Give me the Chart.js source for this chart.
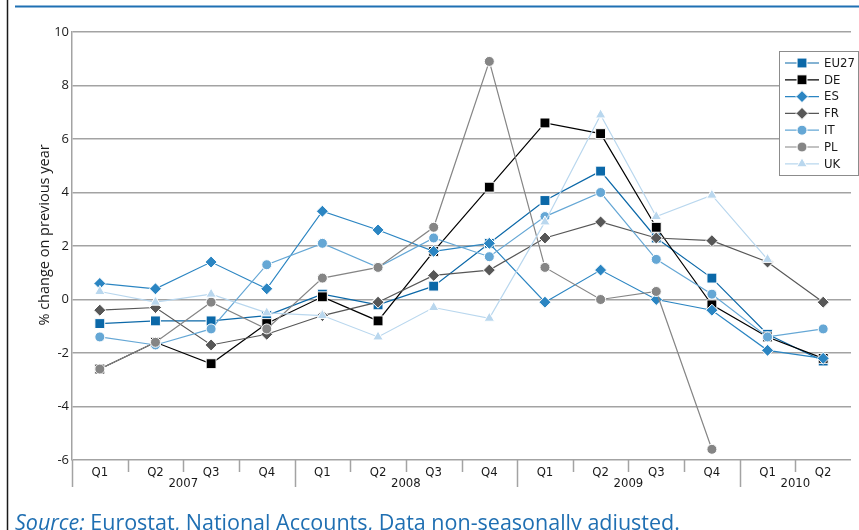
<!DOCTYPE html>
<html>
<head>
<meta charset="utf-8">
<script src="https://cdn.jsdelivr.net/npm/chart.js@4/dist/chart.umd.min.js"></script>
<style>
  html, body { margin: 0; padding: 0; background: #fff; }
  #wrap { position: relative; width: 859px; height: 530px; }
</style>
</head>
<body>
<div id="wrap"><canvas id="gdp-chart" width="859" height="530"></canvas></div>
<script>
const quarters = ["Q1", "Q2", "Q3", "Q4", "Q1", "Q2", "Q3", "Q4", "Q1", "Q2", "Q3", "Q4", "Q1", "Q2"];
const years = ["2007", "2008", "2009", "2010"];
const yearFirst = [0, 4, 8, 12];
const yearLast = [3, 7, 11, 13];

const EU27 = [-0.9, -0.8, -0.8, -0.6, 0.2, -0.2, 0.5, 2.1, 3.7, 4.8, 2.3, 0.8, -1.3, -2.3];
const DE = [-2.6, -1.6, -2.4, -0.9, 0.1, -0.8, 1.8, 4.2, 6.6, 6.2, 2.7, -0.2, -1.4, -2.2];
const ES = [0.6, 0.4, 1.4, 0.4, 3.3, 2.6, 1.8, 2.1, -0.1, 1.1, 0.0, -0.4, -1.9, -2.2];
const FR = [-0.4, -0.3, -1.7, -1.3, -0.6, -0.1, 0.9, 1.1, 2.3, 2.9, 2.3, 2.2, 1.4, -0.1];
const IT = [-1.4, -1.7, -1.1, 1.3, 2.1, 1.2, 2.3, 1.6, 3.1, 4.0, 1.5, 0.2, -1.4, -1.1];
const PL = [-2.6, -1.6, -0.1, -1.1, 0.8, 1.2, 2.7, 8.9, 1.2, 0.0, 0.3, -5.6, null, null];
const UK = [0.3, -0.1, 0.2, -0.5, -0.6, -1.4, -0.3, -0.7, 2.9, 6.9, 3.1, 3.9, 1.5, null];

const yTitle = "% change on previous year";
const sourceLabel = "Source:";
const sourceText = " Eurostat, National Accounts, Data non-seasonally adjusted.";

const condensed = "'Liberation Sans Narrow', 'DejaVu Sans Condensed', 'Roboto Condensed', Roboto, sans-serif";
const gridGray = "#a3a3a3";

function series(label, data, color, pointStyle, radius, order) {
  return {
    label,
    data,
    borderColor: color,
    backgroundColor: color,
    borderWidth: 1.2,
    pointStyle,
    pointRadius: radius,
    pointBackgroundColor: color,
    pointBorderColor: "#ffffff",
    pointBorderWidth: 1,
    spanGaps: false,
    tension: 0,
    order
  };
}

const datasets = [
  series("EU27", EU27, "#0b68a8", "rect", 7, 0),
  series("DE", DE, "#000000", "rect", 7, -1),
  series("ES", ES, "#2b85c2", "rectRot", 6, -2),
  series("FR", FR, "#575757", "rectRot", 6, -3),
  series("IT", IT, "#65a7d5", "circle", 5, -4),
  series("PL", PL, "#858585", "circle", 5, -5),
  series("UK", UK, "#b9d7ee", "triangle", 6, -6)
];

function marker(ctx, ds, x, y) {
  ctx.fillStyle = ds.pointBackgroundColor;
  ctx.strokeStyle = ds.pointBorderColor;
  ctx.lineWidth = ds.pointBorderWidth;
  if (Chart.helpers && Chart.helpers.drawPoint) {
    Chart.helpers.drawPoint(ctx, { pointStyle: ds.pointStyle, radius: ds.pointRadius, rotation: 0, borderWidth: ds.pointBorderWidth }, x, y);
  } else {
    ctx.beginPath();
    ctx.arc(x, y, ds.pointRadius, 0, Math.PI * 2);
    ctx.fill();
    ctx.stroke();
  }
}

const decorations = {
  id: "decorations",
  afterDraw(chart) {
    const { ctx, chartArea: area } = chart;
    const x = chart.scales.x;
    ctx.save();

    // frame: left rule and the blue line under the (cut) heading
    ctx.strokeStyle = "#1a1a1a";
    ctx.lineWidth = 1.5;
    ctx.beginPath();
    ctx.moveTo(7.5, 0);
    ctx.lineTo(7.5, 530);
    ctx.stroke();
    ctx.strokeStyle = "#1f70b3";
    ctx.lineWidth = 2;
    ctx.beginPath();
    ctx.moveTo(15, 6.5);
    ctx.lineTo(859, 6.5);
    ctx.stroke();

    // tick marks between quarters, longer ones between years
    ctx.strokeStyle = gridGray;
    ctx.lineWidth = 1.5;
    for (let i = 0; i < quarters.length; i++) {
      const px = i === 0 ? area.left : (x.getPixelForValue(i - 1) + x.getPixelForValue(i)) / 2;
      const len = yearFirst.includes(i) ? 27 : 12;
      ctx.beginPath();
      ctx.moveTo(Math.round(px) + 0.5, area.bottom);
      ctx.lineTo(Math.round(px) + 0.5, area.bottom + len);
      ctx.stroke();
    }

    // year labels
    ctx.fillStyle = "#1a1a1a";
    ctx.font = "13px " + condensed;
    ctx.textAlign = "center";
    ctx.textBaseline = "middle";
    years.forEach((yr, k) => {
      const left = yearFirst[k] === 0 ? area.left : (x.getPixelForValue(yearFirst[k] - 1) + x.getPixelForValue(yearFirst[k])) / 2;
      const right = yearLast[k] === quarters.length - 1 ? area.right : (x.getPixelForValue(yearLast[k]) + x.getPixelForValue(yearLast[k] + 1)) / 2;
      ctx.fillText(yr, (left + right) / 2, 484);
    });

    // y axis title
    ctx.save();
    ctx.translate(45, 235);
    ctx.rotate(-Math.PI / 2);
    ctx.font = "14.5px 'Open Sans', sans-serif";
    ctx.fillStyle = "#1a1a1a";
    ctx.fillText(yTitle, 0, 0);
    ctx.restore();

    // legend box
    const bx = 779.5, by = 51.5, bw = 79, bh = 124;
    ctx.fillStyle = "#ffffff";
    ctx.fillRect(bx, by, bw, bh);
    ctx.strokeStyle = "#8c8c8c";
    ctx.lineWidth = 1;
    ctx.strokeRect(bx, by, bw, bh);
    ctx.font = "13px " + condensed;
    ctx.textAlign = "left";
    ctx.textBaseline = "middle";
    chart.data.datasets.forEach((ds, i) => {
      const ly = 63 + i * 16.8;
      ctx.strokeStyle = ds.borderColor;
      ctx.lineWidth = ds.borderWidth;
      ctx.beginPath();
      ctx.moveTo(785, ly);
      ctx.lineTo(819, ly);
      ctx.stroke();
      marker(ctx, ds, 802, ly);
      ctx.fillStyle = "#1a1a1a";
      ctx.fillText(ds.label, 824, ly + 0.5);
    });

    // source line
    ctx.textAlign = "left";
    ctx.textBaseline = "alphabetic";
    ctx.fillStyle = "#1f6fb2";
    ctx.font = "italic 21.5px 'Open Sans', sans-serif";
    ctx.fillText(sourceLabel, 15, 530);
    const w = ctx.measureText(sourceLabel).width;
    ctx.font = "21.5px 'Open Sans', sans-serif";
    ctx.fillText(sourceText, 15 + w, 530);

    ctx.restore();
  }
};

new Chart(document.getElementById("gdp-chart").getContext("2d"), {
  type: "line",
  data: { labels: quarters, datasets },
  options: {
    responsive: false,
    animation: false,
    layout: { padding: { top: 32, right: 0, bottom: 0, left: 0 } },
    plugins: { legend: { display: false }, tooltip: { enabled: false } },
    scales: {
      x: {
        offset: true,
        grid: { display: false, drawTicks: false },
        border: { display: false },
        ticks: { autoSkip: false, maxRotation: 0, padding: 5, color: "#1a1a1a", font: { family: condensed, size: 13 } },
        afterFit: (s) => { s.height = 70; }
      },
      y: {
        min: -6,
        max: 10,
        grid: { color: gridGray, lineWidth: 1.5, drawTicks: false },
        border: { color: gridGray, width: 1.5 },
        ticks: { stepSize: 2, padding: 3, color: "#1a1a1a", font: { family: "'Open Sans', sans-serif", size: 13 } },
        afterFit: (s) => { s.width = 72; }
      }
    }
  },
  plugins: [decorations]
});
</script>
</body>
</html>
